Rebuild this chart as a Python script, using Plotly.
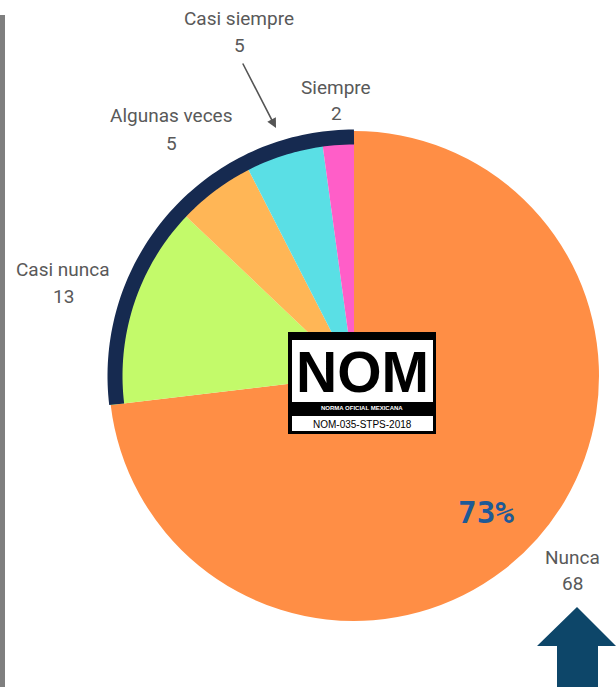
import math
import plotly.graph_objects as go

# ---- data ----
labels = ["Nunca", "Casi nunca", "Algunas veces", "Casi siempre", "Siempre"]
values = [68, 13, 5, 5, 2]
colors = ["#FF8E45", "#C3FA6A", "#FFB656", "#5ADFE5", "#FF5EC8"]
highlight_text = "73%"
logo_title = "NOM"
logo_sub = "NORMA OFICIAL MEXICANA"
logo_code = "NOM-035-STPS-2018"

# ---- layout geometry (pixels) ----
W, H = 616, 687
cx, cy, R = 354, 376, 245

fig = go.Figure()
fig.add_trace(go.Pie(
    labels=labels, values=values, sort=False, direction="clockwise", rotation=0,
    marker=dict(colors=colors, line=dict(width=0)),
    textinfo="none", hoverinfo="label+value", showlegend=False,
    domain=dict(x=[(cx - R) / W, (cx + R) / W], y=[(H - cy - R) / H, (H - cy + R) / H]),
))
fig.add_trace(go.Scatter(x=[None], y=[None], showlegend=False, hoverinfo="skip"))

shapes = []
# left gray bar
shapes.append(dict(type="rect", x0=0, x1=5, y0=15, y1=687, fillcolor="#7F7F7F", line_width=0, layer="above"))

# navy arc over the non-"Nunca" slices
total = sum(values)
a0 = 2 * math.pi * values[0] / total
a1 = 2 * math.pi
ra = 239
pts = []
n = 80
for i in range(n + 1):
    a = a0 + (a1 - a0) * i / n
    pts.append((cx + ra * math.sin(a), cy - ra * math.cos(a)))
path = "M " + " L ".join(f"{x:.2f},{y:.2f}" for x, y in pts)
shapes.append(dict(type="path", path=path, line=dict(color="#162A50", width=15), layer="above"))

# logo
shapes.append(dict(type="rect", x0=288, x1=436, y0=332, y1=434, fillcolor="#000000", line_width=0, layer="above"))
shapes.append(dict(type="rect", x0=292, x1=433, y0=340, y1=402, fillcolor="#FFFFFF", line_width=0, layer="above"))
shapes.append(dict(type="rect", x0=292, x1=433, y0=416, y1=431, fillcolor="#FFFFFF", line_width=0, layer="above"))

# arrow
arrow_path = "M 577,607 L 616,646 L 598,646 L 598,687 L 557,687 L 557,646 L 537,646 Z"
shapes.append(dict(type="path", path=arrow_path, fillcolor="#0D4669", line_width=0, layer="above"))

lab_font = dict(family="Roboto", size=19, color="#595959")
ann = []
label_pos = [(572, 557, 583), (63, 269, 296), (171, 115, 143), (239, 18, 45), (336, 87, 113)]
for (x, yl, yv), name, v in zip(label_pos, labels, values):
    ann.append(dict(x=x, y=yl, text=name, showarrow=False, font=lab_font, xref="x", yref="y"))
    ann.append(dict(x=x, y=yv, text=str(v), showarrow=False, font=lab_font, xref="x", yref="y"))

ann.append(dict(x=276, y=128, ax=242, ay=62, axref="x", ayref="y", xref="x", yref="y", text="",
                showarrow=True, arrowhead=2, arrowsize=1.2, arrowwidth=1.6, arrowcolor="#555555"))

ann.append(dict(x=486, y=512, text=highlight_text, showarrow=False, xref="x", yref="y",
                font=dict(family="DejaVu Sans Mono", size=31, color="#1F5A96", weight="bold")))

ann.append(dict(x=362, y=372, text=logo_title, showarrow=False, xref="x", yref="y",
                font=dict(family="Liberation Sans", size=57, color="#000000", weight="bold")))
ann.append(dict(x=362, y=408, text=logo_sub, showarrow=False, xref="x", yref="y",
                font=dict(family="Liberation Sans", size=6, color="#FFFFFF", weight="bold")))
ann.append(dict(x=362, y=424, text=logo_code, showarrow=False, xref="x", yref="y",
                font=dict(family="Liberation Sans", size=10, color="#000000")))

fig.update_layout(
    width=W, height=H, margin=dict(l=0, r=0, t=0, b=0),
    paper_bgcolor="white", plot_bgcolor="rgba(0,0,0,0)",
    xaxis=dict(range=[0, W], visible=False, fixedrange=True, domain=[0, 1]),
    yaxis=dict(range=[H, 0], visible=False, fixedrange=True, domain=[0, 1]),
    shapes=shapes, annotations=ann,
)
fig.write_html("out.html", post_script="document.body.style.margin='0px';",
               config={"displayModeBar": False})
